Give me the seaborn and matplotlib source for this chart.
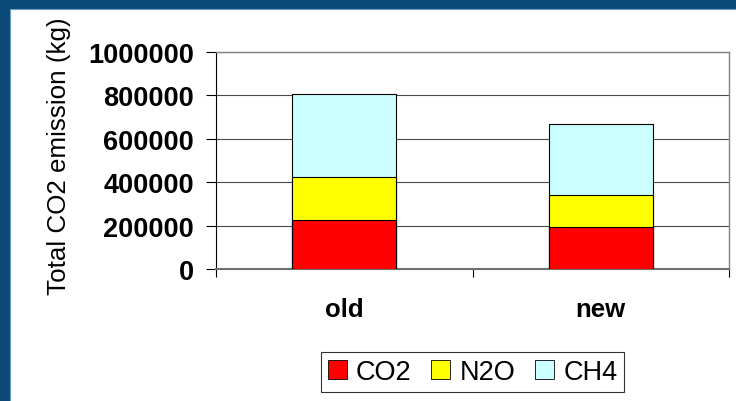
import matplotlib
matplotlib.use("Agg")
import matplotlib.pyplot as plt
import matplotlib.patches as mpatches
import seaborn as sns
import numpy as np

# data (kg)
categories = ["old", "new"]
co2 = [225000, 195000]
n2o = [197000, 145000]
ch4 = [383000, 330000]
gases = ["CO2", "N2O", "CH4"]
gas_colors = ["#FF0000", "#FFFF00", "#CCFFFF"]
y_ticks = [0, 200000, 400000, 600000, 800000, 1000000]

sns.set_style("white")
plt.rcParams['font.family'] = ['Liberation Sans', 'DejaVu Sans']
plt.rcParams['text.color'] = 'black'
plt.rcParams['xtick.color'] = 'black'
plt.rcParams['ytick.color'] = 'black'
plt.rcParams['axes.labelcolor'] = 'black'

fig = plt.figure(figsize=(7.36, 4.02), dpi=100, facecolor="#0b4a78")
# white slide panel over blue border (extends past right/bottom edges)
fig.patches.append(mpatches.Rectangle((10 / 736, -0.1), 1.2, 1.1 - 10 / 402,
                                      transform=fig.transFigure, facecolor="white",
                                      edgecolor="#6b9cc0", linewidth=0.8, zorder=-1))

ax = fig.add_axes([216 / 736, 132 / 402, 513 / 736, 217 / 402])
ax.set_zorder(1)
ax.set_facecolor("white")

# stacked bars: draw cumulative totals from the top down
cum1 = np.array(co2)
cum2 = cum1 + np.array(n2o)
cum3 = cum2 + np.array(ch4)
for vals, col in zip([cum3, cum2, cum1], gas_colors[::-1]):
    sns.barplot(x=categories, y=vals, color=col, saturation=1, width=0.405,
                edgecolor="black", linewidth=0.8, ax=ax, zorder=3)

ax.set_ylim(0, 1000000)
ax.set_xlim(-0.5, 1.5)
ax.set_yticks(y_ticks)
ax.set_yticklabels([str(v) for v in y_ticks], fontsize=19.5, fontweight="bold")
ax.yaxis.grid(True, color="#4a4a4a", linewidth=0.8, zorder=0)
ax.set_axisbelow(True)

ax.set_xticks([0, 1])
ax.set_xticklabels(categories, fontsize=18.5, fontweight="bold")
ax.set_xticks([-0.5, 0.5, 1.5], minor=True)
ax.tick_params(axis="x", which="major", length=0, pad=20)
ax.tick_params(axis="x", which="minor", length=6, width=0.8, color="black", direction="out", bottom=True)
ax.tick_params(axis="y", length=7, width=0.8, color="black", direction="out", pad=9, left=True)

for side in ["top", "right"]:
    ax.spines[side].set_color("#808080")
    ax.spines[side].set_linewidth(1.0)
ax.spines["left"].set_color("black")
ax.spines["left"].set_linewidth(0.8)
ax.spines["bottom"].set_color("#707070")
ax.spines["bottom"].set_linewidth(1.5)

ax.set_xlabel("")
ax.set_ylabel("Total CO2 emission (kg)", fontsize=18.7)
ax.yaxis.set_label_coords(-0.283, 0.525)

handles = [mpatches.Patch(facecolor=c, edgecolor="black", linewidth=0.6) for c in gas_colors]
leg = fig.legend(handles, gases, loc="center", bbox_to_anchor=(472.5 / 736, 29 / 402),
                 ncol=3, fontsize=19.5, frameon=True, fancybox=False, handlelength=0.7,
                 handleheight=0.7, handletextpad=0.35, columnspacing=0.72,
                 borderpad=0.25, edgecolor="black")
leg.get_frame().set_linewidth(0.8)

fig.savefig("out.png", dpi=100, facecolor=fig.get_facecolor())
